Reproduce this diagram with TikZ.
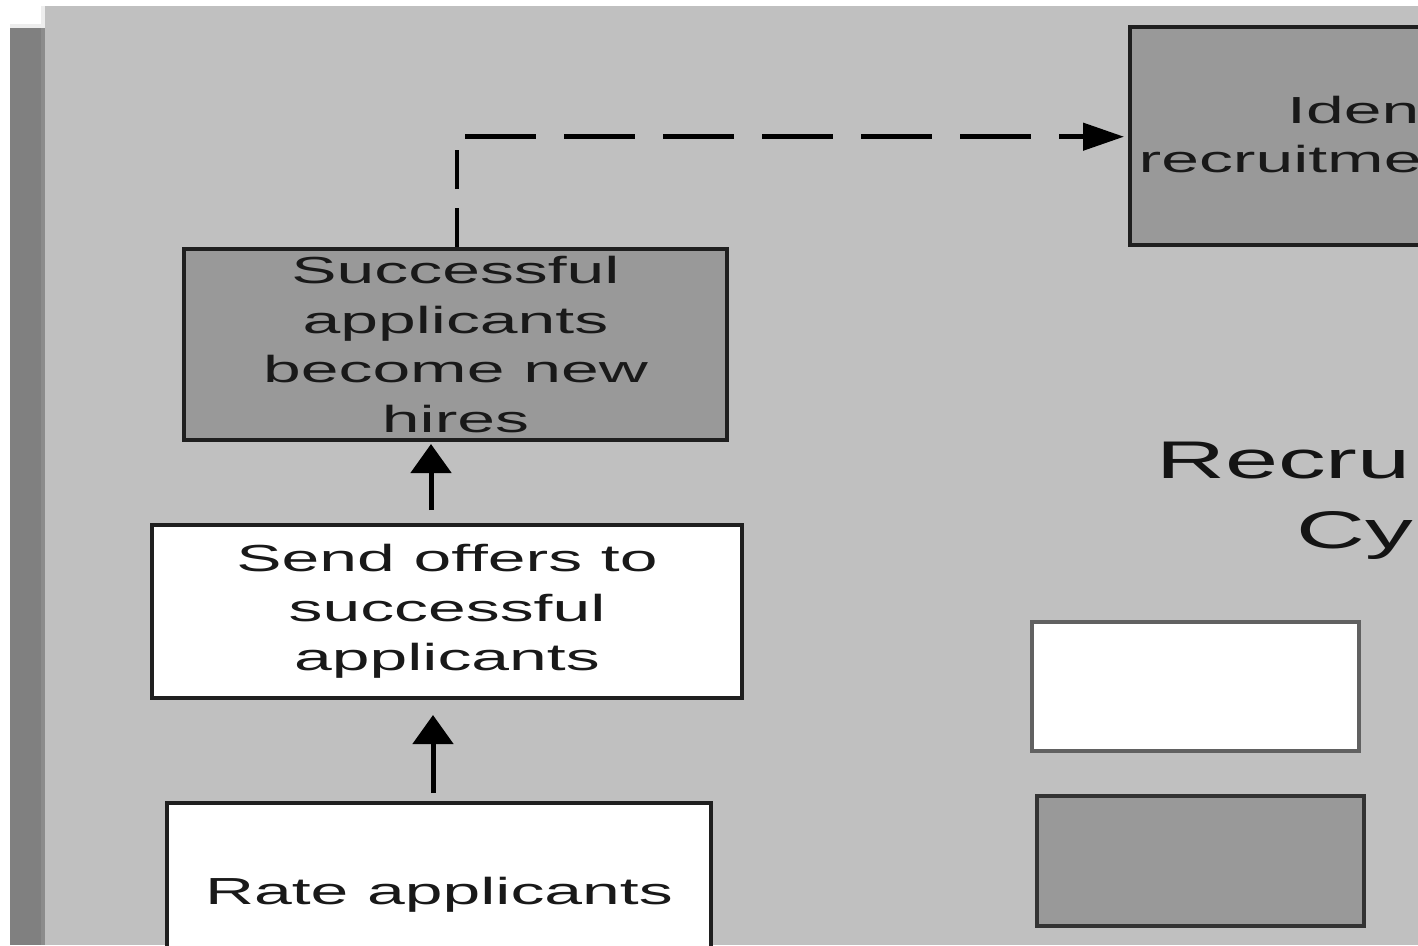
\documentclass[tikz,border=0pt]{standalone}
\usepackage{fontspec}
\setmainfont{Liberation Sans}[FakeStretch=1.8]
\newfontfamily\titlefont{Liberation Sans}[FakeStretch=1.8]
\usetikzlibrary{arrows.meta}
\definecolor{bggray}{HTML}{C0C0C0}
\definecolor{boxgray}{HTML}{999999}
\definecolor{stripgray}{HTML}{808080}
\begin{document}
\begin{tikzpicture}[x=1pt,y=-1pt,
  box/.style={draw=black!88, line width=4pt, rectangle, inner sep=0pt,
    align=center, text=black!90, font={\fontsize{37.7pt}{49.7pt}\selectfont}},
  txt/.style={inner sep=0pt, text=black!90, font={\fontsize{37.7pt}{49.7pt}\selectfont}},
  titletxt/.style={inner sep=0pt, text=black!92, font={\titlefont\fontsize{53pt}{70pt}\selectfont}},
  legendbox/.style={rectangle, line width=4pt, minimum width=327pt, minimum height=129pt, inner sep=0pt},
  uparrow/.style={line width=5pt, black, -{Triangle[length=29pt,width=40pt]}},
  dashv/.style={line width=4.5pt, black, dash pattern=on 39pt off 19pt},
  dashh/.style={line width=4.5pt, black, dash pattern=on 71pt off 28pt, dash phase=91pt}]
\useasboundingbox (0,0) rectangle (1418,945);
\clip (0,0) rectangle (1418,945);
% background
\fill[white] (0,0) rectangle (1418,945);
\fill[bggray] (45,6) rectangle (1418,945);
\fill[stripgray] (10,28) rectangle (41,945);
\fill[black!45] (41,28) rectangle (45,945);
\fill[black!7] (10,24) rectangle (45,28);
\fill[black!7] (41,6) rectangle (45,24);
% process boxes
\node[box, fill=boxgray, minimum width=543pt, minimum height=191pt] (succ) at (455.5,344.5)
  {Successful\\applicants\\become new\\hires};
\node[box, fill=white, minimum width=590pt, minimum height=173pt] (send) at (447,611.5)
  {Send offers to\\successful\\applicants};
\node[box, fill=white, minimum width=544pt, minimum height=184pt] (rate) at (439,895)
  {Rate applicants};
\node[box, fill=boxgray, minimum width=570pt, minimum height=218pt] (ident) at (1415,136) {};
\node[txt, anchor=base west] (identA) at (1287,123) {Iden};
\node[txt, anchor=base west] (identB) at (1138.5,172) {recruitme};
% title
\node[titletxt, anchor=base west] (titleA) at (1156,478) {Recru};
\node[titletxt, anchor=base west] (titleB) at (1296,548) {Cy};
% legend
\node[legendbox, fill=white, draw=black!62] (keyA) at (1195.5,686.5) {};
\node[legendbox, fill=boxgray, draw=black!80, minimum height=130pt] (keyB) at (1200.5,861) {};
% connectors
\draw[uparrow, shorten <=8pt, shorten >=15pt] ([xshift=-6pt]rate.north) -- ([xshift=-14pt]send.south);
\draw[uparrow, shorten <=13pt, shorten >=2pt] ([xshift=-16pt]send.north) -- ([xshift=-24.5pt]succ.south);
\coordinate (bend) at (457,136.7);
\draw[dashv] ([xshift=1.5pt]succ.north) -- (bend);
\draw[dashh, -{Triangle[length=41pt,width=27pt]}, shorten >=4pt] (bend) -- (bend -| ident.west);
\end{tikzpicture}
\end{document}
